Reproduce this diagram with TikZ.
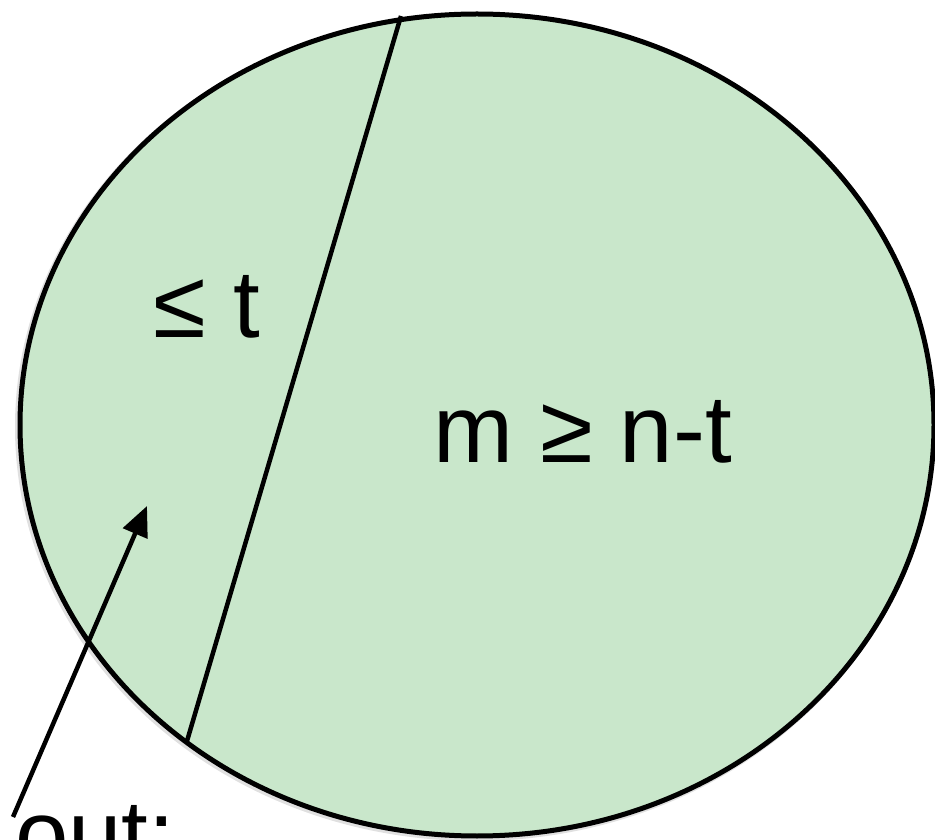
\documentclass[tikz,border=0pt]{standalone}
\usepackage{fontspec}
\setmainfont{Liberation Sans}
\usetikzlibrary{arrows.meta,shapes.geometric}
\definecolor{cellgreen}{RGB}{201,231,203}
\tikzset{
  cellshape/.style={ellipse, draw=black, fill=cellgreen, line width=5pt,
    minimum width=914pt, minimum height=822pt, inner sep=0pt},
  divider/.style={draw=black, line width=4.5pt},
  pointer/.style={draw=black, line width=4.5pt, -{Triangle[length=30pt,width=26pt]}},
  bigtext/.style={font=\fontsize{96}{110}\selectfont, inner sep=0pt, anchor=base}
}
\begin{document}
\begin{tikzpicture}[x=1pt,y=1pt]
\useasboundingbox (0,0) rectangle (935,839);
\clip (0,0) rectangle (935,839);
% soft shadow
\fill[black, opacity=0.12] (475,412) ellipse [x radius=460, y radius=414];
\node[cellshape] (cell) at (477,414) {};
\coordinate (dtop) at (401,823);
\coordinate (dbot) at (187,98);
\draw[divider] (dtop) -- (dbot);
\node[bigtext] (few) at (207,501) {≤ t};
\node[bigtext] (many) at (583,376) {m ≥ n-t};
\node[bigtext, anchor=base west] (out) at (15,-28) {out:};
\coordinate (atail) at (13,22);
\coordinate (ahead) at (147,333);
\draw[pointer] (atail) -- (ahead);
\end{tikzpicture}
\end{document}
